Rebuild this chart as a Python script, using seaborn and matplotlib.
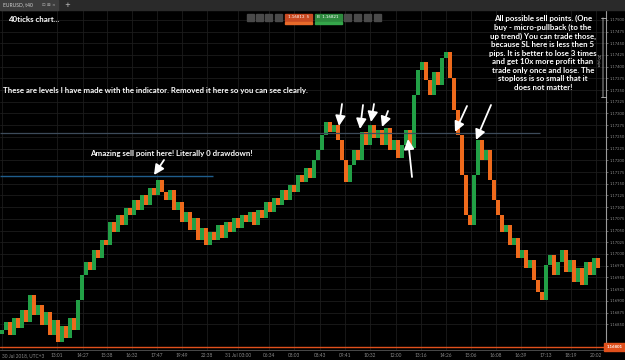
import numpy as np
import pandas as pd
import seaborn as sns
import matplotlib
matplotlib.use("Agg")
import matplotlib.pyplot as plt
from matplotlib.patches import Rectangle

# ---------------- data ----------------
first_open = 1.16830
closes = [
    1.16838, 1.16855, 1.16827, 1.16863, 1.16842, 1.16880, 1.16855, 1.16912, 1.16870, 1.16891,
    1.16848, 1.16876, 1.16827, 1.16859, 1.16812, 1.16846, 1.16820, 1.16863, 1.16838, 1.16902,
    1.16955, 1.16983, 1.16966, 1.17009, 1.16991, 1.17030, 1.17019, 1.17068, 1.17047, 1.17083,
    1.17062, 1.17098, 1.17083, 1.17115, 1.17094, 1.17126, 1.17105, 1.17141, 1.17126, 1.17158,
    1.17132, 1.17115, 1.17137, 1.17094, 1.17111, 1.17068, 1.17090, 1.17051, 1.17077, 1.17030,
    1.17056, 1.17019, 1.17047, 1.17030, 1.17062, 1.17034, 1.17068, 1.17047, 1.17077, 1.17056,
    1.17083, 1.17068, 1.17090, 1.17062, 1.17094, 1.17077, 1.17111, 1.17090, 1.17120, 1.17105,
    1.17137, 1.17115, 1.17147, 1.17132, 1.17169, 1.17154, 1.17184, 1.17162, 1.17201, 1.17222,
    1.17254, 1.17282, 1.17261, 1.17276, 1.17244, 1.17201, 1.17154, 1.17190, 1.17222, 1.17201,
    1.17261, 1.17233, 1.17276, 1.17248, 1.17265, 1.17233, 1.17269, 1.17222, 1.17244, 1.17205,
    1.17233, 1.17265, 1.17227, 1.17340, 1.17393, 1.17410, 1.17372, 1.17340, 1.17389, 1.17361,
    1.17419, 1.17432, 1.17376, 1.17308, 1.17254, 1.17169, 1.17083, 1.17062, 1.17169, 1.17244,
    1.17201, 1.17222, 1.17158, 1.17115, 1.17083, 1.17047, 1.17062, 1.17019, 1.17034, 1.16991,
    1.17009, 1.16970, 1.16987, 1.16944, 1.16919, 1.16902, 1.16976, 1.16998, 1.16955, 1.16983,
    1.17009, 1.16962, 1.16987, 1.16940, 1.16970, 1.16934, 1.16983, 1.16955, 1.16991, 1.16970,
]
x_tick_labels = ["30 Jul 2018, UTC+3", "13:01", "14:27", "15:38", "16:32", "17:47", "19:49",
                 "22:38", "31 Jul 03:00", "06:34", "08:03", "08:43", "09:41", "10:32", "12:00",
                 "13:16", "14:26", "15:06", "16:08", "16:39", "17:13", "18:19", "20:02"]
x_tick_candles = [0, 13.75, 20.25, 26.25, 32.5, 38.75, 45, 51.25, 59, 66.75, 73, 79.5, 85.75,
                  92, 98.5, 104.75, 111, 117.25, 123.5, 129.75, 136, 142.25, 148.5]
y_ticks = [round(1.17500 - 0.00025 * k, 5) for k in range(27)]
blue_level = 1.17167
gray_level = 1.17259
current_price = 1.16801
bid_price, ask_price = "1.16813", "1.16821"

# ---------------- figure ----------------
W, H = 625, 360
sns.set_theme(style="dark")
plt.rcParams["font.family"] = ["Lato", "DejaVu Sans"]
fig = plt.figure(figsize=(W / 100, H / 100), dpi=100, facecolor="black")

ax = fig.add_axes([0, 1 - 350 / H, 606 / W, 340 / H])
ax.set_facecolor("black")

df = pd.DataFrame({"close": closes})
df["open"] = [first_open] + closes[:-1]
df["idx"] = np.arange(len(df))
df["up"] = df["close"] >= df["open"]
df["bottom"] = df[["open", "close"]].min(axis=1)
df["height"] = np.maximum((df["close"] - df["open"]).abs(), 0.00002)
colors = np.where(df["up"], "#22a046", "#ee6a1c")
ax.bar(df["idx"], df["height"], bottom=df["bottom"], width=0.85, color=colors, linewidth=0)

ax.set_xlim(-0.5, 151.0)
ax.set_ylim(1.16795, 1.17521)

# levels
ax.hlines(blue_level, -0.5, 52.75, color="#1f5d8c", lw=1.0, zorder=3)
ax.hlines(gray_level, -0.5, 134.5, color="#3d4b5a", lw=0.9, zorder=3)
ax.axhline(current_price, color="#e0501c", lw=1.0, zorder=4)

# axes styling
ax.set_xticks(x_tick_candles)
ax.set_xticklabels(x_tick_labels)
ax.set_yticks(y_ticks)
ax.set_yticklabels([f"{v:.5f}" for v in y_ticks])
ax.yaxis.tick_right()
ax.tick_params(axis="y", labelsize=2.9, colors="#8a8a8a", length=1.5, width=0.5, pad=0.8)
ax.tick_params(axis="x", labelsize=3.4, colors="#8a8a8a", length=0, pad=2)
ax.get_xticklabels()[0].set_ha("left")
ax.grid(True, color="#1c1c1c", lw=0.6)
for s in ["top", "left"]:
    ax.spines[s].set_visible(False)
ax.spines["right"].set_color("#9a9a9a")
ax.spines["right"].set_linewidth(0.8)
ax.spines["bottom"].set_color("#555555")
ax.spines["bottom"].set_linewidth(0.6)


def fp(x, y):
    return (x / W, 1 - y / H)


# top bar
fig.patches.append(Rectangle((0, 1 - 10 / H), 1, 10 / H, transform=fig.transFigure,
                             color="#2a2a2a", zorder=5))
fig.patches.append(Rectangle(fp(0, 10), 58 / W, 10 / H, transform=fig.transFigure,
                             color="#3d3d3d", zorder=6))
fig.text(*fp(3, 5), "EURUSD, t40", color="#cfcfcf", fontsize=3.6, va="center", zorder=7)
fig.text(*fp(42, 5), "⊡ ⊠ ×", color="#aaaaaa", fontsize=3.2, va="center", zorder=7,
         family="DejaVu Sans")
fig.text(*fp(64, 5), "+", color="#cccccc", fontsize=5, va="center", zorder=7,
         family="DejaVu Sans")

# toolbar
for x0 in [247, 256, 265, 275, 344, 354, 364, 374]:
    fig.patches.append(Rectangle(fp(x0, 21), 7 / W, 7 / H, transform=fig.transFigure,
                                 color="#4a4a4a", zorder=6))
fig.patches.append(Rectangle(fp(285, 21), 27 / W, 7 / H, transform=fig.transFigure,
                             color="#c94a22", zorder=6))
fig.patches.append(Rectangle(fp(285, 23.5), 27 / W, 1.2 / H, transform=fig.transFigure,
                             color="#e86a2a", zorder=6))
fig.patches.append(Rectangle(fp(315, 21), 27 / W, 7 / H, transform=fig.transFigure,
                             color="#2d8a3e", zorder=6))
fig.patches.append(Rectangle(fp(315, 23.5), 27 / W, 1.2 / H, transform=fig.transFigure,
                             color="#34a64a", zorder=6))
fig.text(*fp(298, 17.5), bid_price + "  S", color="white", fontsize=3.2, ha="center",
         va="center", zorder=7)
fig.text(*fp(328, 17.5), "B  " + ask_price, color="white", fontsize=3.2, ha="center",
         va="center", zorder=7)

# price tag
fig.patches.append(Rectangle(fp(604, 351), 21 / W, 8 / H, transform=fig.transFigure,
                             color="#e0501c", zorder=6))
fig.text(*fp(614.5, 347), f"{current_price:.5f}", color="white", fontsize=3.2,
         ha="center", va="center", weight="bold", zorder=7)

# ruler bracket
ax.annotate("", xy=fp(603, 15), xytext=fp(603, 100), xycoords="figure fraction",
            textcoords="figure fraction",
            arrowprops=dict(arrowstyle="|-|,widthA=0.15,widthB=0.15", color="#bbbbbb", lw=0.6))
fig.text(*fp(598.5, 60), "20 pips", color="#bbbbbb", fontsize=2.8, rotation=270,
         ha="center", va="center")

# annotations
tkw = dict(color="white", weight="bold", fontsize=5.7, zorder=8)
fig.text(*fp(8, 20), "40ticks chart...", va="center", **tkw)
fig.text(*fp(3, 90), "These are levels I have made with the indicator. Removed it here so you can see clearly.",
         va="center", **tkw)
fig.text(*fp(171, 153), "Amazing sell point here! Literally 0 drawdown!", va="center",
         ha="center", **tkw)
right_note = ("All possible sell points. (One\nbuy - micro-pullback (to the\n"
              "up trend) You can trade those,\nbecause SL here is less then 5\n"
              "pips. It is better to lose 3 times\nand get 10x more profit than\n"
              "trade only once and lose. The\nstoploss is so small that it\ndoes not matter!")
fig.text(*fp(543, 15), right_note, va="top", ha="center", multialignment="center",
         linespacing=1.25, **tkw)

arrows = [((164, 160), (154, 175)), ((342, 104), (339, 126)), ((363, 105), (360, 129)),
          ((374, 104), (371, 122)), ((388, 111), (382, 127)), ((412, 177), (408, 139)),
          ((467, 106), (455, 132)), ((491, 105), (476, 140))]
for start, end in arrows:
    ax.annotate("", xy=fp(*end), xytext=fp(*start), xycoords="figure fraction",
                textcoords="figure fraction",
                arrowprops=dict(arrowstyle="-|>,head_length=0.5,head_width=0.25",
                                color="white", lw=1.3, shrinkA=0, shrinkB=0), zorder=9)

fig.savefig("out.png", dpi=100, facecolor="black")
